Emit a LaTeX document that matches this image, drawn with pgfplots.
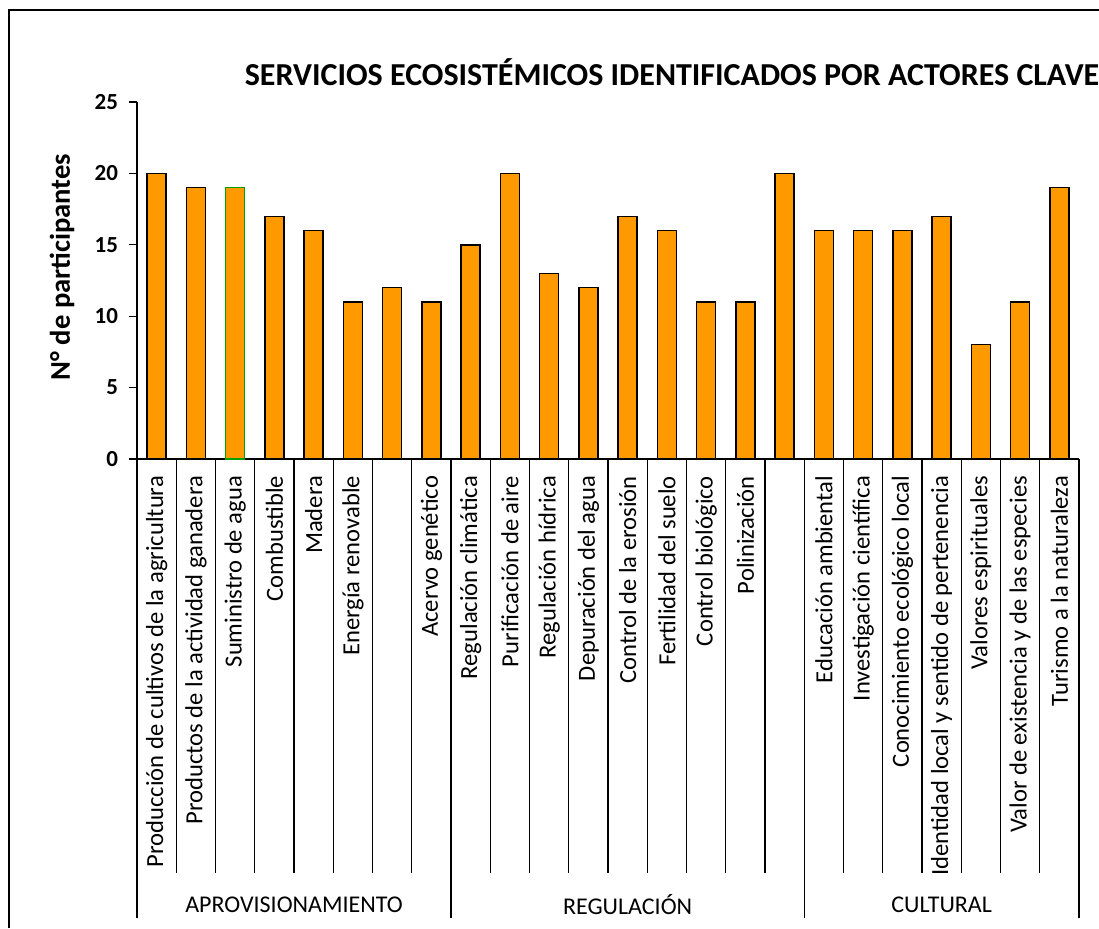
\documentclass[border=0pt]{standalone}
\usepackage{fontspec}
\setmainfont{Carlito}
\usepackage{pgfplots}
\pgfplotsset{compat=1.18}
\definecolor{barorange}{HTML}{FF9900}
\definecolor{edgegreen}{HTML}{00A000}

\begin{document}
\begin{tikzpicture}[x=0.5pt,y=0.5pt]
% page = 1099 x 928 px, 1 px = 0.5pt, y measured upwards
\useasboundingbox (0,0) rectangle (1099,928);
\draw[line width=1pt] (9,0) -- (9,918) -- (1099,918);
\node[font=\bfseries\fontsize{16}{19}\selectfont] at (672,856)
  {SERVICIOS ECOSISTÉMICOS IDENTIFICADOS POR ACTORES CLAVE};
\node[rotate=90,font=\bfseries\fontsize{14.3}{17}\selectfont] at (62,661)
  {N° de participantes};

\begin{axis}[
  at={(68.5pt,234.5pt)}, anchor=origin,
  scale only axis, width=471pt, height=178.5pt,
  xmin=0.5, xmax=24.5, ymin=0, ymax=25,
  axis x line*=bottom, axis y line*=left,
  axis line style={line width=0.65pt},
  ytick={0,5,...,25},
  tick align=outside, major tick length=4pt,
  y tick style={line width=0.65pt, black},
  yticklabel style={font=\bfseries\fontsize{11.5}{13}\selectfont, xshift=-2pt},
  /pgf/number format/assume math mode=true,
  xtick={1,...,24},
  x tick style={draw=none},
  xticklabels={
    Producción de cultivos de la agricultura,
    Productos de la actividad ganadera,
    Suministro de agua,
    Combustible,
    Madera,
    Energía renovable,
    {},
    Acervo genético,
    Regulación climática,
    Purificación de aire,
    Regulación hídrica,
    Depuración del agua,
    Control de la erosión,
    Fertilidad del suelo,
    Control biológico,
    Polinización,
    {},
    Educación ambiental,
    Investigación científica,
    Conocimiento ecológico local,
    Identidad local y sentido de pertenencia,
    Valores espirituales,
    Valor de existencia y de las especies,
    Turismo a la naturaleza},
  xticklabel style={rotate=90, anchor=east,
    font=\fontsize{12.3}{14}\selectfont},
  xticklabel shift=1pt,
  ybar, bar width=9.5pt,
  clip=false,
]
\addplot[bar shift=0pt, fill=barorange, draw=black, line width=0.7pt] coordinates {
  (1,20) (2,19) (4,17) (5,16) (6,11) (7,12) (8,11)
  (9,15) (10,20) (11,13) (12,12) (13,17) (14,16) (15,11) (16,11) (17,20)
  (18,16) (19,16) (20,16) (21,17) (22,8) (23,11) (24,19)
};
\addplot[bar shift=0pt, fill=barorange, draw=edgegreen, line width=0.8pt] coordinates {
  (3,19)
};
% category separators and group separators below the axis
\pgfplotsinvokeforeach{0,...,24}{
  \draw[line width=0.65pt] (axis cs:#1.5,0) -- ++(0pt,-207pt);
}
\draw[line width=0.65pt] (axis cs:0.5,0) -- ++(0pt,-229.5pt);
\draw[line width=0.65pt] (axis cs:8.5,0) -- ++(0pt,-229.5pt);
\draw[line width=0.65pt] (axis cs:17.5,0) -- ++(0pt,-229.5pt);
\draw[line width=0.65pt] (axis cs:24.5,0) -- ++(0pt,-229.5pt);
\node[font=\fontsize{12}{14}\selectfont] at ([yshift=-223pt]axis cs:4.5,0) {APROVISIONAMIENTO};
\node[font=\fontsize{12}{14}\selectfont] at ([yshift=-223pt]axis cs:13,0) {REGULACIÓN};
\node[font=\fontsize{12}{14}\selectfont] at ([yshift=-223pt]axis cs:21,0) {CULTURAL};
\end{axis}
\end{tikzpicture}
\end{document}
